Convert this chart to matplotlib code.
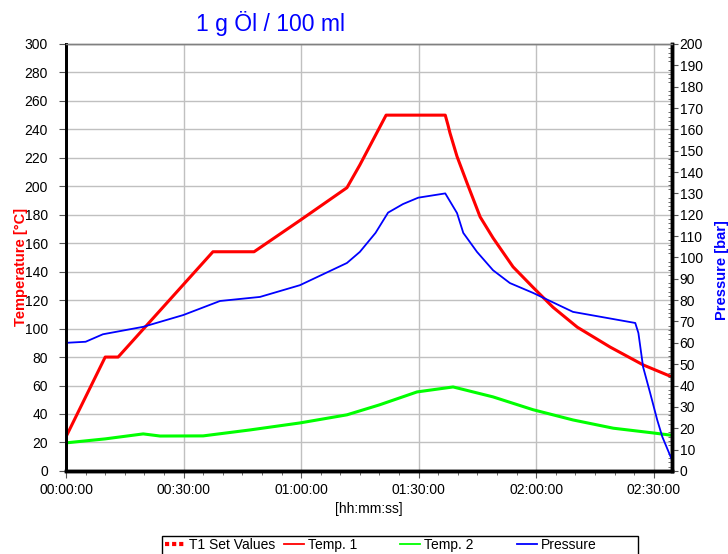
import matplotlib.pyplot as plt
from matplotlib.lines import Line2D
from matplotlib.patches import Rectangle
from matplotlib.ticker import MultipleLocator, FuncFormatter

plt.rcParams['font.family'] = ['Liberation Sans', 'DejaVu Sans']

# time in minutes
temp1_t = [0, 10, 13.3, 37.5, 48, 59.7, 71.7, 75, 81.7, 96.8, 97.5, 98, 99.8, 102.4, 105.7,
           109, 114.1, 119.2, 124.3, 130.5, 138.9, 147.3, 154.7]
temp1 = [24, 80, 80, 154, 154, 176, 199, 215, 250, 250, 243, 237.5, 221, 202, 178.5,
         163.7, 143.4, 129, 115, 101, 87, 74.5, 66]

temp2_t = [0, 10, 19.7, 24, 35, 47, 59.7, 71.7, 80, 89.6, 98.8, 109, 119.2, 129.4,
           139.7, 149.8, 154.7]
temp2 = [19.7, 22.5, 26, 24.5, 24.6, 28.8, 33.7, 39.4, 46.4, 55.5, 59, 52, 43, 35.8,
         30, 26.7, 25]

press_t = [0, 5, 9.4, 19.7, 29.9, 39.3, 49.5, 59.7, 71.7, 75, 79, 82.2, 86, 89.9, 96.8,
           99.8, 101.4, 104.9, 109, 113.3, 119.2, 129.4, 145.3, 146.1, 147.3, 149.1,
           150.9, 152.2, 154.7]
press = [60, 60.5, 64, 67.5, 73, 79.6, 81.5, 87, 97.4, 102.6, 111.5, 121, 125, 128, 130,
         120.8, 111.5, 102.6, 94, 88, 83.4, 74.5, 69.3, 64.6, 48.7, 36.5,
         23.9, 16, 5]

x_max = 154.7

legend_labels = ['T1 Set Values', 'Temp. 1', 'Temp. 2', 'Pressure']


def hms(x, pos):
    m = int(round(x))
    return f"{m // 60:02d}:{m % 60:02d}:00"


fig = plt.figure(figsize=(7.28, 5.54), dpi=100)
ax = fig.add_axes([0.0907, 0.150, 0.8325, 0.7706])
ax2 = ax.twinx()

ax.plot(temp1_t, temp1, color='#ff0000', lw=2.2)
ax.plot(temp2_t, temp2, color='#00ff00', lw=2.2)
ax2.plot(press_t, press, color='#0000ff', lw=1.3)

ax.set_xlim(0, x_max)
ax.set_ylim(0, 300)
ax2.set_ylim(0, 200)

ax.xaxis.set_major_locator(MultipleLocator(30))
ax.xaxis.set_minor_locator(MultipleLocator(5))
ax.xaxis.set_major_formatter(FuncFormatter(hms))
ax.yaxis.set_major_locator(MultipleLocator(20))
ax2.yaxis.set_major_locator(MultipleLocator(10))
ax2.yaxis.set_minor_locator(MultipleLocator(2))

ax.grid(True, color='#c0c0c0', lw=1)
ax.set_axisbelow(True)

ax.tick_params(axis='both', which='major', labelsize=10, color='#555555', length=5)
ax.tick_params(axis='y', which='major', pad=8)
ax.tick_params(axis='x', which='minor', color='#555555', length=3)
ax2.tick_params(axis='y', which='major', labelsize=10, color='#555555', length=4, pad=1.5)
ax2.tick_params(axis='y', which='minor', direction='in', color='#555555', length=3)

for a in (ax, ax2):
    a.spines['left'].set_linewidth(2)
    a.spines['bottom'].set_linewidth(2.5)
    a.spines['right'].set_linewidth(2.5)
    a.spines['top'].set_color('#808080')
    a.spines['top'].set_linewidth(1)

ax.set_xlabel('[hh:mm:ss]', fontsize=10)
ax.set_ylabel('Temperature [°C]', color='#ff0000', fontsize=10.5, fontweight='bold')
ax.yaxis.set_label_coords(-0.063, 0.478)
ax2.set_ylabel('Pressure [bar]', color='#0000ff', fontsize=10.5, fontweight='bold')
ax2.yaxis.set_label_coords(1.070, 0.471)

fig.text(0.371, 0.958, '1 g Öl / 100 ml', color='#0000ff', fontsize=16.5,
         ha='center', va='center')

# legend: frame plus four evenly spaced entries
fig.add_artist(Rectangle((162 / 728, -0.02), 476 / 728, (554 - 536) / 554 + 0.02,
                         transform=fig.transFigure, fill=False, ec='black', lw=1))
handles = [
    Line2D([], [], color='#ff0000', lw=3, ls=(0, (1, 0.7))),
    Line2D([], [], color='#ff0000', lw=1.3),
    Line2D([], [], color='#00ff00', lw=1.3),
    Line2D([], [], color='#0000ff', lw=1.3),
]
x_starts = [165, 284, 400, 517]
for h, lab, xs in zip(handles, legend_labels, x_starts):
    fig.legend([h], [lab], loc='center left', bbox_to_anchor=(xs / 728, 1 - 545 / 554),
               fontsize=10, frameon=False, borderpad=0, borderaxespad=0,
               handlelength=1.45, handletextpad=0.25)

fig.savefig('out.png', dpi=100)
